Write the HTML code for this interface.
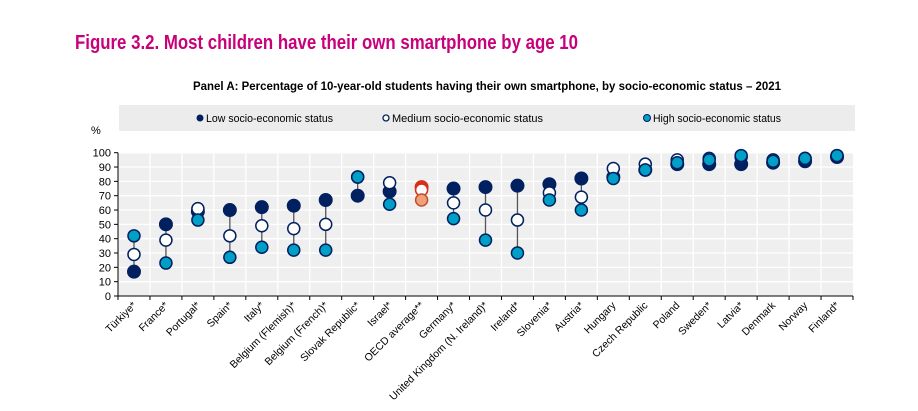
<!DOCTYPE html>
<html><head><meta charset="utf-8"><style>
html,body{margin:0;padding:0;background:#fff;width:918px;height:411px;overflow:hidden}
svg{display:block;font-family:"Liberation Sans",Arial,sans-serif}
</style></head><body>
<svg id="chart" width="918" height="411" viewBox="0 0 918 411">
<text x="75" y="49" font-size="20" font-weight="bold" fill="#c8007a" textLength="503" lengthAdjust="spacingAndGlyphs">Figure 3.2. Most children have their own smartphone by age 10</text>
<text x="193" y="90" font-size="12" font-weight="bold" fill="#000" textLength="588" lengthAdjust="spacingAndGlyphs">Panel A: Percentage of 10-year-old students having their own smartphone, by socio-economic status – 2021</text>
<rect x="119" y="105" width="736" height="26" fill="#ececec"/>
<g><circle cx="200" cy="118" r="3.5" fill="#002060"/><text x="206" y="122" font-size="11" textLength="127" lengthAdjust="spacingAndGlyphs">Low socio-economic status</text></g>
<g><circle cx="386" cy="118" r="3" fill="#fff" stroke="#002060" stroke-width="1.3"/><text x="392" y="122" font-size="11" textLength="151" lengthAdjust="spacingAndGlyphs">Medium socio-economic status</text></g>
<g><circle cx="647" cy="118" r="3.5" fill="#00a0c6" stroke="#002060" stroke-width="1"/><text x="653" y="122" font-size="11" textLength="128" lengthAdjust="spacingAndGlyphs">High socio-economic status</text></g>
<text x="91" y="134" font-size="11">%</text>
<rect x="118" y="152" width="735" height="144" fill="#efefef"/>
<g id="grid"></g><g id="axes"></g><g id="marks"></g><g id="labels"></g>
</svg>
<script>
const categories=["Türkiye*","France*","Portugal*","Spain*","Italy*","Belgium (Flemish)*","Belgium (French)*","Slovak Republic*","Israel*","OECD average**","Germany*","United Kingdom (N. Ireland)*","Ireland*","Slovenia*","Austria*","Hungary","Czech Republic","Poland","Sweden*","Latvia*","Denmark","Norway","Finland*"];
const lowValues=[17,50,59,60,62,63,67,70,73,76,75,76,77,78,82,83,88,92,92,92,93,94,97];
const mediumValues=[29,39,61,42,49,47,50,83,79,74,65,60,53,72,69,89,92,95,96,97,95,96,98];
const highValues=[42,23,53,27,34,32,32,83,64,67,54,39,30,67,60,82,88,93,95,98,94,96,98];
const yTicks=[0,10,20,30,40,50,60,70,80,90,100];
const NS="http://www.w3.org/2000/svg";
const X0=118,X1=853,Y0=296,Y1=152.7;
const bw=(X1-X0)/categories.length;
const xS=i=>X0+bw*(i+0.5);
const yS=v=>Y0-(v/100)*(Y0-Y1);
function mk(t,a,p){const e=document.createElementNS(NS,t);for(const k in a)e.setAttribute(k,a[k]);p.appendChild(e);return e;}
const grid=document.getElementById('grid'),axes=document.getElementById('axes'),marks=document.getElementById('marks'),labels=document.getElementById('labels');
yTicks.forEach(v=>{
 if(v>0){const g=mk('line',{x1:X0,x2:X1,y1:yS(v),y2:yS(v),stroke:'#fff','stroke-width':1.3},grid);
 
 }
 mk('line',{x1:X0-4,x2:X0,y1:yS(v),y2:yS(v),stroke:'#000'},axes);
 const t=mk('text',{x:X0-7,y:yS(v)+4,'font-size':11,'text-anchor':'end'},axes);t.textContent=v;
 
 
});
for(let i=1;i<categories.length;i++){mk('line',{x1:X0+bw*i,x2:X0+bw*i,y1:Y1,y2:Y0,stroke:'#fff','stroke-width':1.3},grid);}
mk('line',{x1:X0,x2:X0,y1:Y1,y2:Y0,stroke:'#000'},axes);
mk('line',{x1:X0,x2:X1,y1:Y0,y2:Y0,stroke:'#000'},axes);
for(let i=0;i<=categories.length;i++){mk('line',{x1:X0+bw*i,x2:X0+bw*i,y1:Y0,y2:Y0+4,stroke:'#000'},axes);}
categories.forEach((c,i)=>{
 const x=xS(i);const oecd=c.startsWith('OECD');
 const vals=[lowValues[i],mediumValues[i],highValues[i]];
 const ln=mk('line',{x1:x,x2:x,y1:yS(Math.max(...vals)),y2:yS(Math.min(...vals)),stroke:'#555','stroke-width':1.3},marks);
 
 
 const lo=mk('circle',{cx:x,cy:yS(lowValues[i]),r:6.5,fill:oecd?'#d6301b':'#002060',stroke:oecd?'#d6301b':'#002060'},marks);
 
 
 const me=mk('circle',{cx:x,cy:yS(mediumValues[i]),r:6,fill:'#fff',stroke:oecd?'#d6301b':'#002060','stroke-width':1.5},marks);
 
 
 const hi=mk('circle',{cx:x,cy:yS(highValues[i]),r:6,fill:oecd?'#f0a07a':'#00a0c6',stroke:oecd?'#c0502a':'#002060','stroke-width':1.5},marks);
 
 
 const t=mk('text',{x:0,y:0,'font-size':10.5,'text-anchor':'end',transform:`translate(${x+3},${Y0+10}) rotate(-45)`},labels);
 t.textContent=c;
 
 
});
</script>
</body></html>
